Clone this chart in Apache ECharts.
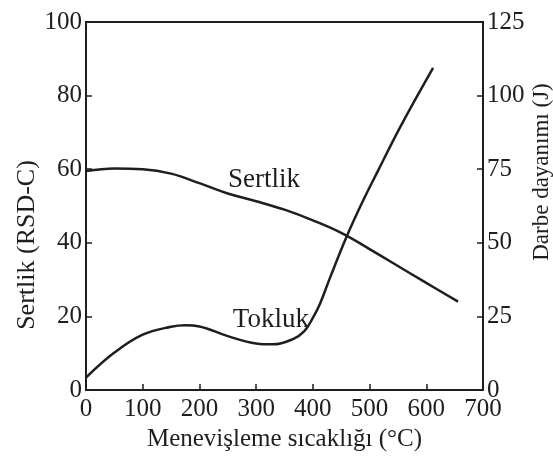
<!DOCTYPE html>
<html>
<head>
<meta charset="utf-8">
<script src="https://cdn.jsdelivr.net/npm/echarts@6/dist/echarts.min.js"></script>
<style>
  html, body { margin: 0; padding: 0; background: #fff; }
  #chart { width: 553px; height: 458px; }
</style>
</head>
<body>
<div id="chart"></div>
<script>
// Tempering temperature (°C) vs hardness (HRC, left axis) and impact energy (J, right axis)
const sertlikTemp  = [0, 50, 100, 150, 200, 250, 300, 350, 400, 450, 500, 550, 600, 656];
const sertlikValue = [59.5, 60.2, 60, 58.8, 56.2, 53.4, 51.3, 49, 46.1, 42.7, 38.3, 33.7, 29.1, 24];

const toklukTemp  = [0, 50, 100, 150, 175, 200, 250, 300, 330, 365, 385, 400, 413, 430, 460, 489, 515, 554, 612];
const toklukValue = [4.2, 12.7, 18.8, 21.5, 22, 21.6, 18.3, 15.8, 15.5, 17.3, 20, 24.5, 29.5, 38, 52.3, 64.5, 74.5, 89.3, 109.4];

const xTicks = { min: 0, max: 700, interval: 100 };
const leftTicks = { min: 0, max: 100, interval: 20 };
const rightTicks = { min: 0, max: 125, interval: 25 };

const ink = '#1e1e1e';
const font = 'Liberation Serif';

const pairs = (xs, ys) => xs.map((x, i) => [x, ys[i]]);

const axisCommon = {
  axisLine: { show: true, lineStyle: { color: ink, width: 2 } },
  axisTick: { show: true, inside: true, length: 6, lineStyle: { color: ink, width: 1.5 } },
  splitLine: { show: false },
  axisLabel: { color: ink, fontFamily: font, fontSize: 25 }
};

// Curve name placed at a data coordinate, with an invisible anchor symbol
const curveLabel = (text, coord) => ({
  symbol: 'circle', symbolSize: 1,
  itemStyle: { color: 'rgba(0,0,0,0)' },
  label: { show: true, position: 'inside', color: ink, fontFamily: font, fontSize: 27, formatter: text },
  data: [{ coord: coord }]
});

const chart = echarts.init(document.getElementById('chart'));
chart.setOption({
  animation: false,
  backgroundColor: '#fff',
  grid: {
    left: 86, right: 70, top: 22, bottom: 68,
    outerBoundsMode: 'none',
    show: true, borderColor: ink, borderWidth: 2, backgroundColor: 'transparent'
  },
  xAxis: Object.assign({}, axisCommon, {
    type: 'value',
    min: xTicks.min, max: xTicks.max, interval: xTicks.interval,
    name: 'Menevişleme sıcaklığı (°C)',
    nameLocation: 'middle', nameGap: 34,
    nameTextStyle: { color: ink, fontFamily: font, fontSize: 25 },
    axisLabel: Object.assign({}, axisCommon.axisLabel, { margin: 7 })
  }),
  yAxis: [
    Object.assign({}, axisCommon, {
      type: 'value', position: 'left',
      min: leftTicks.min, max: leftTicks.max, interval: leftTicks.interval,
      axisLabel: Object.assign({}, axisCommon.axisLabel, { margin: 4 })
    }),
    Object.assign({}, axisCommon, {
      type: 'value', position: 'right',
      min: rightTicks.min, max: rightTicks.max, interval: rightTicks.interval,
      axisLabel: Object.assign({}, axisCommon.axisLabel, { margin: 4 })
    })
  ],
  graphic: [
    {
      type: 'text', x: 27, y: 245, rotation: Math.PI / 2,
      style: {
        text: 'Sertlik (RSD-C)', fill: ink, font: '26px "Liberation Serif"',
        textAlign: 'center', textVerticalAlign: 'middle', verticalAlign: 'middle'
      }
    },
    {
      type: 'text', x: 542, y: 172, rotation: Math.PI / 2,
      style: {
        text: 'Darbe dayanımı (J)', fill: ink, font: '23px "Liberation Serif"',
        textAlign: 'center', textVerticalAlign: 'middle', verticalAlign: 'middle'
      }
    }
  ],
  series: [
    {
      name: 'Sertlik', type: 'line', yAxisIndex: 0,
      data: pairs(sertlikTemp, sertlikValue),
      smooth: 0.4, showSymbol: false,
      lineStyle: { color: ink, width: 2.5 },
      markPoint: curveLabel('Sertlik', [314, 57])
    },
    {
      name: 'Tokluk', type: 'line', yAxisIndex: 1,
      data: pairs(toklukTemp, toklukValue),
      smooth: 0.4, showSymbol: false,
      lineStyle: { color: ink, width: 2.5 },
      markPoint: curveLabel('Tokluk', [326, 23.8])
    }
  ]
});
</script>
</body>
</html>
